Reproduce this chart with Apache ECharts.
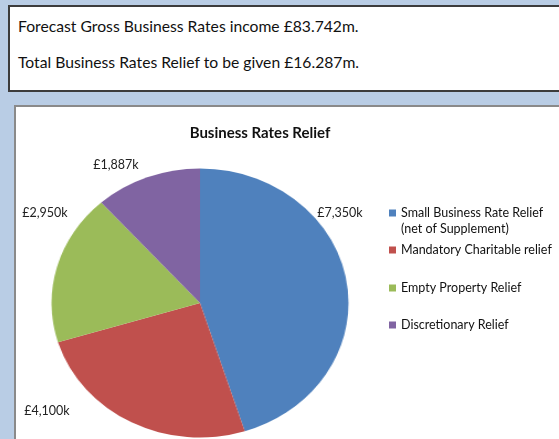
<!DOCTYPE html>
<html>
<head>
<meta charset="utf-8">
<script src="https://cdn.jsdelivr.net/npm/echarts@6/dist/echarts.min.js"></script>
<style>
  html, body { margin: 0; padding: 0; }
  body { width: 559px; height: 439px; background: #b9cde5; position: relative; overflow: hidden; font-family: Lato, "Open Sans", sans-serif; }
  #note { position: absolute; left: 8px; top: 5px; width: 620px; height: 83px; background: #fff; border: 2px solid #3c3c3c; }
  #note p { margin: 0; position: absolute; left: 8px; font-size: 15.7px; color: #111; }
  #frame { position: absolute; left: 14px; top: 105px; width: 600px; height: 400px; background: #fff; border-left: 2px solid #8a8a8a; border-top: 2px solid #8a8a8a; }
  #pie { position: absolute; left: 50px; top: 153px; width: 300px; height: 300px; transform: scaleX(1.104); transform-origin: 50% 50%; }
  #main { position: absolute; left: 0; top: 0; width: 559px; height: 439px; }
</style>
</head>
<body>
<div id="note">
  <p style="top:10px">Forecast Gross Business Rates income £83.742m.</p>
  <p style="top:46px">Total Business Rates Relief to be given £16.287m.</p>
</div>
<div id="frame"></div>
<div id="pie"></div>
<div id="main"></div>
<script>
// relief types and amounts (£k)
const categories = [
  'Small Business Rate Relief\n(net of Supplement)',
  'Mandatory Charitable relief',
  'Empty Property Relief',
  'Discretionary Relief'
]
const values = [7350, 4100, 2950, 1887]
const colors = ['#4f81bd', '#c0504d', '#9bbb59', '#8064a2']

// where Excel put the data labels, and legend rows
const labelSpots = [[340, 213], [47, 411], [45, 213], [116, 165]]
const legendTops = [205, 242, 280, 317]

const seriesData = categories.map((name, i) => ({ name: name, value: values[i] }))

// the pie itself (stretched sideways like the original)
const pieChart = echarts.init(document.getElementById('pie'))
pieChart.setOption({
  animation: false,
  color: colors,
  series: [{
    type: 'pie',
    radius: 134.5,
    center: ['50%', '50%'],
    startAngle: 90,
    silent: true,
    label: { show: false },
    labelLine: { show: false },
    data: seriesData
  }]
})

// two-line entry: square sits at the top so it lines up with the first line
const tallIcon = 'path://M0,0L7,0L7,7L0,7Z M0,23L0,23'

// title, labels and legend
const chart = echarts.init(document.getElementById('main'))
chart.setOption({
  animation: false,
  color: colors,
  title: {
    text: 'Business Rates Relief',
    left: 255,
    top: 121,
    textAlign: 'center',
    textStyle: { fontFamily: 'Lato', fontSize: 15, fontWeight: 'bold', color: '#111' }
  },
  legend: categories.map((name, i) => ({
    data: [name],
    orient: 'vertical',
    left: 389,
    top: legendTops[i],
    padding: 0,
    icon: i === 0 ? tallIcon : 'rect',
    itemWidth: 7,
    itemHeight: i === 0 ? 23 : 7,
    selectedMode: false,
    itemStyle: { opacity: 1 },
    textStyle: { fontFamily: 'Lato', fontSize: 12.5, color: '#111', lineHeight: 16 }
  })),
  series: [{
    type: 'pie',
    radius: 100,
    center: [200, 303],
    startAngle: 90,
    silent: true,
    itemStyle: { opacity: 0 },
    label: {
      show: true,
      opacity: 1,
      overflow: 'none',
      width: 200,
      fontFamily: 'Lato',
      fontSize: 12.5,
      color: '#222',
      formatter: p => '£' + p.value.toLocaleString('en-GB') + 'k'
    },
    labelLine: { show: false },
    labelLayout: p => ({
      x: labelSpots[p.dataIndex][0],
      y: labelSpots[p.dataIndex][1],
      align: 'center',
      verticalAlign: 'middle'
    }),
    data: seriesData
  }]
})
</script>
</body>
</html>
